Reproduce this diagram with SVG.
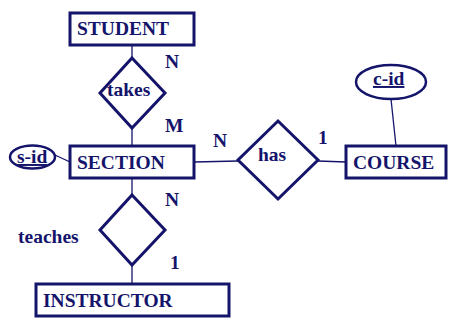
<svg xmlns="http://www.w3.org/2000/svg" width="454" height="322" viewBox="0 0 454 322">
<style>
.ent{fill:#fff;stroke:#14146b;stroke-width:3}
.rel{fill:#fff;stroke:#14146b;stroke-width:3}
.att{fill:#fff;stroke:#14146b;stroke-width:2.5}
.ln{stroke:#14146b;stroke-width:1.3;fill:none}
text{font-family:"Liberation Serif","Times New Roman",serif;font-weight:bold;font-size:19.5px;fill:#14146b}
.u{text-decoration:underline}
</style>
<rect width="454" height="322" fill="#fff"/>
<g id="connectors">
<line class="ln" x1="132" y1="45" x2="132" y2="58"/>
<line class="ln" x1="132" y1="128" x2="132" y2="146"/>
<line class="ln" x1="132" y1="178" x2="132" y2="195"/>
<line class="ln" x1="132" y1="265" x2="132" y2="284"/>
<line class="ln" x1="194" y1="162" x2="238" y2="161"/>
<line class="ln" x1="318" y1="161" x2="346" y2="162"/>
<line class="ln" x1="55" y1="155" x2="70" y2="162"/>
<line class="ln" x1="391" y1="99" x2="396" y2="146"/>
</g>
<g id="student"><rect class="ent" x="70" y="13" width="124" height="32"/><text x="77" y="35">STUDENT</text></g>
<g id="takes"><polygon class="rel" points="132,58 165,93 132,128 100,93"/><text x="107" y="96">takes</text></g>
<g id="section"><rect class="ent" x="70" y="146" width="124" height="32"/><text x="77" y="169">SECTION</text></g>
<g id="s-id"><ellipse class="att" cx="32.5" cy="157" rx="22.5" ry="11.5"/><text class="u" x="17" y="163">s-id</text></g>
<g id="teaches"><polygon class="rel" points="132,195 165,230 132,265 100,230"/><text x="18" y="243">teaches</text></g>
<g id="instructor"><rect class="ent" x="36" y="284" width="193" height="32"/><text x="43" y="307">INSTRUCTOR</text></g>
<g id="has"><polygon class="rel" points="278,121 318,160 278,199 238,160"/><text x="258" y="161">has</text></g>
<g id="course"><rect class="ent" x="346" y="146" width="100" height="32"/><text x="353" y="169">COURSE</text></g>
<g id="c-id"><ellipse class="att" cx="391" cy="82" rx="35" ry="17"/><text class="u" x="373" y="85">c-id</text></g>
<g id="cardinalities">
<text x="165" y="68">N</text>
<text x="165" y="132">M</text>
<text x="213" y="147">N</text>
<text x="318" y="144">1</text>
<text x="165" y="206">N</text>
<text x="170" y="269">1</text>
</g>
</svg>
